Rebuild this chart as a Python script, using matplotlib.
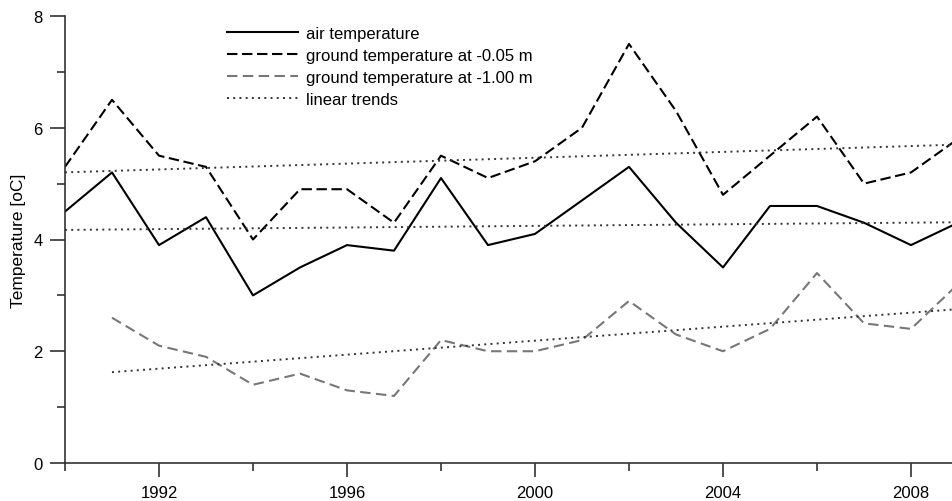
import numpy as np
import matplotlib
matplotlib.use("Agg")
import matplotlib.pyplot as plt
from matplotlib.ticker import MultipleLocator, FixedLocator

plt.rcParams['font.family'] = ['Liberation Sans', 'DejaVu Sans']

# data
years = np.arange(1990, 2010)
air = [4.5, 5.2, 3.9, 4.4, 3.0, 3.5, 3.9, 3.8, 5.1, 3.9,
       4.1, 4.7, 5.3, 4.3, 3.5, 4.6, 4.6, 4.3, 3.9, 4.3]
ground_005 = [5.3, 6.5, 5.5, 5.3, 4.0, 4.9, 4.9, 4.3, 5.5, 5.1,
              5.4, 6.0, 7.5, 6.3, 4.8, 5.5, 6.2, 5.0, 5.2, 5.8]
years_100 = np.arange(1991, 2010)
ground_100 = [2.6, 2.1, 1.9, 1.4, 1.6, 1.3, 1.2, 2.2, 2.0,
              2.0, 2.2, 2.9, 2.3, 2.0, 2.4, 3.4, 2.5, 2.4, 3.2]

labels = ["air temperature", "ground temperature at -0.05 m",
          "ground temperature at -1.00 m", "linear trends"]

fig = plt.figure(figsize=(9.52, 5.02), dpi=100)
ax = fig.add_axes([65 / 952, 38 / 502, 887 / 952, 447 / 502])

trend_style = dict(color="#333333", lw=1.4, ls=(0, (1, 2.2)))

ax.plot(years, air, color="black", lw=1.5, label=labels[0])
ax.plot(years, ground_005, color="black", lw=1.5, ls=(0, (5, 2.2)), label=labels[1])
ax.plot(years_100, ground_100, color="#777777", lw=1.5, ls=(0, (5, 2.6)), label=labels[2])

# linear trends fitted to each series
for xs, ys in [(years, air), (years, ground_005), (years_100, ground_100)]:
    k, b = np.polyfit(xs, ys, 1)
    ax.plot(xs, k * np.asarray(xs) + b, **trend_style)
ax.plot([], [], label=labels[3], **trend_style)

ax.set_xlim(1990, 1990 + 887 / 47)
ax.set_ylim(0, 8)

ax.xaxis.set_major_locator(FixedLocator([1992, 1996, 2000, 2004, 2008]))
ax.xaxis.set_minor_locator(FixedLocator([1990, 1994, 1998, 2002, 2006]))
ax.yaxis.set_major_locator(MultipleLocator(2))
ax.yaxis.set_minor_locator(MultipleLocator(1))
ax.xaxis.set_major_formatter(matplotlib.ticker.FuncFormatter(lambda v, p: f"{int(v)}"))

for s in ["top", "right"]:
    ax.spines[s].set_visible(False)
for s in ["left", "bottom"]:
    ax.spines[s].set_color("#333333")
    ax.spines[s].set_linewidth(1.2)

ax.tick_params(axis="x", which="major", length=10, width=1.2, color="#333333",
               labelsize=12, pad=6)
ax.tick_params(axis="x", which="minor", length=6, width=1.2, color="#333333")
ax.tick_params(axis="y", which="major", length=11, width=1.2, color="#333333",
               labelsize=12, pad=5)
ax.tick_params(axis="y", which="minor", length=6, width=1.2, color="#333333")

ax.set_ylabel("Temperature [oC]", fontsize=12.5, va="center")
ax.yaxis.set_label_coords(-0.052, 0.5)

leg = ax.legend(loc="upper left", bbox_to_anchor=(0.183, 0.977), frameon=False,
                fontsize=12, handlelength=4.25, handletextpad=0.5,
                labelspacing=0.41, borderaxespad=0, borderpad=0)

fig.savefig("out.png", dpi=100)
